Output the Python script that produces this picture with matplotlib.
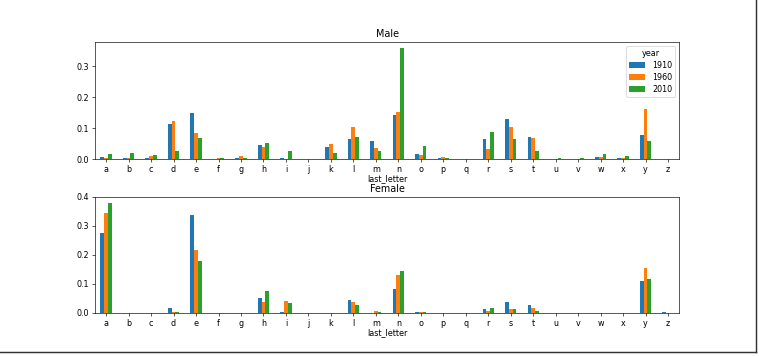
import pandas as pd
import matplotlib
matplotlib.use("Agg")
import matplotlib.pyplot as plt
from matplotlib.lines import Line2D

letters = list("abcdefghijklmnopqrstuvwxyz")
years = ["1910", "1960", "2010"]

male_1910 = [0.0075, 0.003, 0.003, 0.114, 0.148, 0.0005, 0.004, 0.046, 0.004, 0.0,
             0.038, 0.066, 0.059, 0.143, 0.017, 0.005, 0.0, 0.066, 0.130, 0.073,
             0.0005, 0.0, 0.0075, 0.005, 0.078, 0.0005]
male_1960 = [0.003, 0.003, 0.009, 0.124, 0.084, 0.005, 0.011, 0.039, 0.0, 0.0,
             0.049, 0.105, 0.037, 0.153, 0.014, 0.0075, 0.0, 0.032, 0.103, 0.067,
             0.0005, 0.0, 0.0075, 0.003, 0.161, 0.0005]
male_2010 = [0.016, 0.020, 0.014, 0.025, 0.070, 0.004, 0.004, 0.053, 0.025, 0.0005,
             0.019, 0.071, 0.027, 0.361, 0.044, 0.004, 0.0, 0.087, 0.066, 0.025,
             0.003, 0.003, 0.017, 0.011, 0.059, 0.002]

female_1910 = [0.277, 0.0, 0.0, 0.018, 0.339, 0.0, 0.0, 0.053, 0.003, 0.0,
               0.0, 0.045, 0.0, 0.082, 0.003, 0.0, 0.0, 0.015, 0.039, 0.028,
               0.0, 0.0, 0.0, 0.0, 0.111, 0.003]
female_1960 = [0.345, 0.0, 0.0, 0.003, 0.217, 0.0, 0.0, 0.037, 0.041, 0.0,
               0.0, 0.036, 0.008, 0.132, 0.003, 0.0, 0.0, 0.007, 0.015, 0.016,
               0.0, 0.0, 0.0, 0.0, 0.154, 0.0]
female_2010 = [0.380, 0.0, 0.0, 0.003, 0.180, 0.0, 0.0, 0.077, 0.033, 0.0,
               0.0, 0.028, 0.003, 0.143, 0.003, 0.0, 0.0, 0.018, 0.015, 0.008,
               0.0, 0.0, 0.0, 0.0, 0.118, 0.0]

male = pd.DataFrame({"1910": male_1910, "1960": male_1960, "2010": male_2010},
                    index=pd.Index(letters, name="last_letter"))
male.columns.name = "year"
female = pd.DataFrame({"1910": female_1910, "1960": female_1960, "2010": female_2010},
                      index=pd.Index(letters, name="last_letter"))
female.columns.name = "year"

# the reference looks like a normal matplotlib figure shrunk down,
# so draw at a low dpi with default sizes
DPI = 58
fig = plt.figure(figsize=(759 / DPI, 356 / DPI), dpi=DPI)
ax1 = fig.add_axes([0.125, 0.553, 0.77, 0.329])
ax2 = fig.add_axes([0.125, 0.121, 0.77, 0.326])

male.plot(kind="bar", rot=0, ax=ax1, title="Male")
female.plot(kind="bar", rot=0, ax=ax2, title="Female", legend=False)

ax1.legend(title="year", loc="upper right", labelspacing=0.35)
ax2.set_yticks([0.0, 0.1, 0.2, 0.3, 0.4])
for ax in (ax1, ax2):
    ax.xaxis.labelpad = 1

# frame shadow of the screenshot
fig.add_artist(Line2D([0.996, 0.996], [0.012, 1.0], color="#333333", lw=1.8,
                      transform=fig.transFigure))
fig.add_artist(Line2D([0.0, 0.996], [0.012, 0.012], color="#333333", lw=1.8,
                      transform=fig.transFigure))

fig.savefig("out.png", dpi=DPI)
